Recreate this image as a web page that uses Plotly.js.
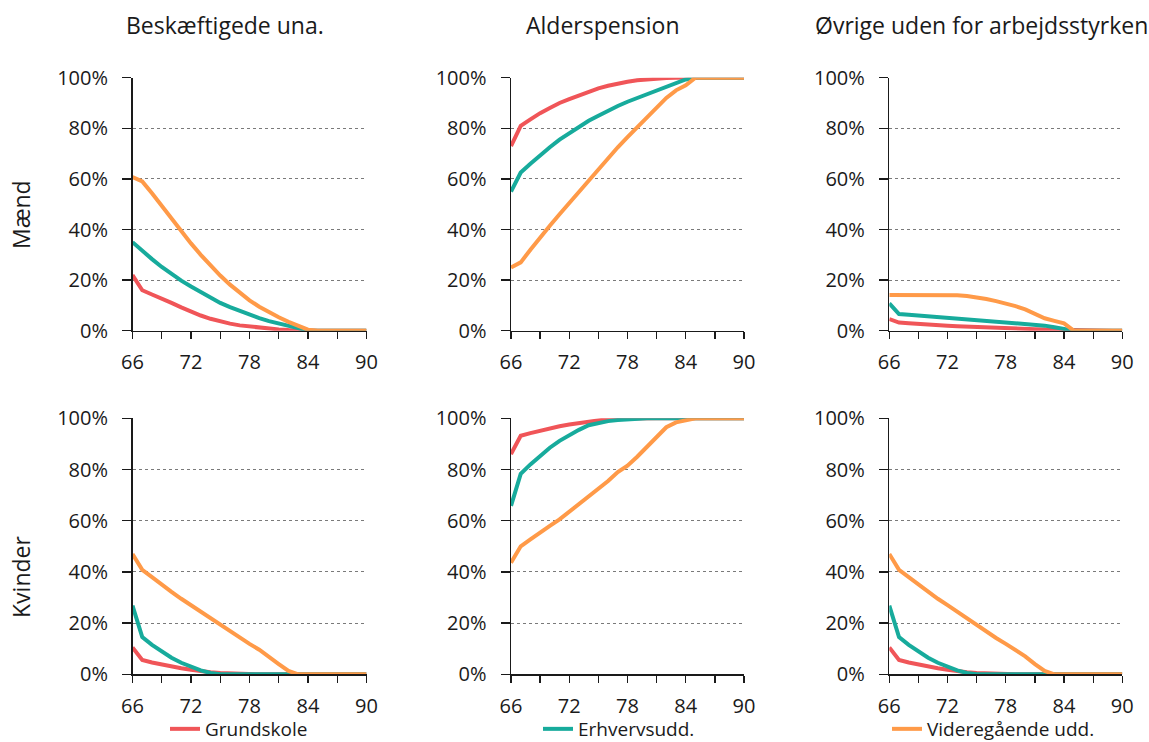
<!DOCTYPE html>
<html>
<head>
<meta charset="utf-8">
<script src="https://cdn.plot.ly/plotly-3.0.1.min.js"></script>
<style>
html,body{margin:0;padding:0;background:#fff;}
#chart{width:1149px;height:742px;}
</style>
</head>
<body>
<div id="chart"></div>
<script>
// Ages (x categories)
const ages = [66,67,68,69,70,71,72,73,74,75,76,77,78,79,80,81,82,83,84,85,86,87,88,89,90];

// Column / row labels
const columnTitles = ["Beskæftigede una.", "Alderspension", "Øvrige uden for arbejdsstyrken"];
const rowTitles = ["Mænd", "Kvinder"];
const seriesNames = ["Grundskole", "Erhvervsudd.", "Videregående udd."];
const yTickVals = [0,20,40,60,80,100];
const yTickText = ["0%","20%","40%","60%","80%","100%"];
const xTickVals = [66,69,72,75,78,81,84,87,90];
const xTickText = ["66","","72","","78","","84","","90"];

// Mænd – Beskæftigede una. (%)
const menBeskGrund = [22,16,14.3,12.8,11,9.2,7.5,6,4.7,3.6,2.8,2.1,1.6,1.1,0.7,0.5,0.3,0.1,0,0,0,0,0,0,0];
const menBeskErhv  = [35,31.5,28.3,25.2,22.3,19.8,17.5,15.2,13,11,9.3,7.8,6.4,5,3.8,2.8,1.8,0.9,0.1,0,0,0,0,0,0];
const menBeskVid   = [60.7,59,54.3,49.3,44.2,39.2,34.5,30,25.8,21.8,18.2,15,12,9.5,7.3,5.3,3.5,1.8,0.4,0,0,0,0,0,0];

// Mænd – Alderspension (%)
const menAldGrund = [73,81,83.5,86,88,90,91.5,93,94.5,95.8,96.8,97.7,98.4,99,99.4,99.7,99.9,100,100,100,100,100,100,100,100];
const menAldErhv  = [55,62.5,66,69.5,72.5,75.5,78,80.5,83,85,87,88.8,90.5,92,93.5,95,96.5,98,99.3,100,100,100,100,100,100];
const menAldVid   = [25,27,32,37,41.5,46,50.5,55,59.5,64,68,72.5,76.5,80.5,84.5,88,92,95,97,100,100,100,100,100,100];

// Mænd – Øvrige uden for arbejdsstyrken (%)
const menOvrGrund = [4.6,3.2,2.9,2.6,2.4,2.2,2,1.8,1.6,1.5,1.3,1.2,1.05,0.9,0.8,0.6,0.5,0.4,0.3,0,0,0,0,0,0];
const menOvrErhv  = [10.8,6.6,6.3,6,5.6,5.2,4.9,4.6,4.3,4,3.7,3.5,3.3,3,2.8,2.5,2,1.4,0.8,0,0,0,0,0,0];
const menOvrVid   = [14.1,14.1,14.1,14.1,14.1,14.1,14.1,14,13.7,13.2,12.5,11.7,10.8,9.7,8.4,6.6,4.9,3.9,2.9,0,0,0,0,0,0];

// Kvinder – Beskæftigede una. (%)
const womBeskGrund = [10.5,5.6,4.6,3.8,3.1,2.4,1.8,1.2,0.8,0.5,0.3,0.1,0,0,0,0,0,0,0,0,0,0,0,0,0];
const womBeskErhv  = [26.8,14.5,11.5,8.8,6.5,4.5,2.8,1.5,0.5,0,0,0,0,0,0,0,0,0,0,0,0,0,0,0,0];
const womBeskVid   = [47,40.8,38,35,32.2,29.5,27,24.4,21.8,19.2,16.6,14.2,11.9,9.6,7,4,1.3,0,0,0,0,0,0,0,0];

// Kvinder – Alderspension (%)
const womAldGrund = [86,93.2,94.2,95.2,96.1,96.9,97.6,98.2,98.8,99.3,99.7,99.9,100,100,100,100,100,100,100,100,100,100,100,100,100];
const womAldErhv  = [65.8,78.3,82,85.5,88.5,91.2,93.5,95.5,97.3,98.3,98.9,99.3,99.6,99.8,100,100,100,100,100,100,100,100,100,100,100];
const womAldVid   = [43.6,50,52.7,55.5,58,60.5,63.5,66.5,69.5,72.5,75.5,79,81.5,85,89,92.8,96.5,98.4,99.4,100,100,100,100,100,100];

// Kvinder – Øvrige uden for arbejdsstyrken (%)
const womOvrGrund = [10.5,5.6,4.6,3.8,3.1,2.4,1.8,1.2,0.8,0.5,0.3,0.1,0,0,0,0,0,0,0,0,0,0,0,0,0];
const womOvrErhv  = [26.8,14.5,11.5,8.8,6.5,4.5,2.8,1.5,0.5,0,0,0,0,0,0,0,0,0,0,0,0,0,0,0,0];
const womOvrVid   = [47,40.8,38,35,32.2,29.5,27,24.4,21.8,19.2,16.6,14.2,11.9,9.6,7,4,1.3,0,0,0,0,0,0,0,0];

const colors = ["#f05558", "#17ab9c", "#ff9a48"];
const FONT = "Open Sans, DejaVu Sans, sans-serif";

const panels = [
  [menBeskGrund, menBeskErhv, menBeskVid],
  [menAldGrund, menAldErhv, menAldVid],
  [menOvrGrund, menOvrErhv, menOvrVid],
  [womBeskGrund, womBeskErhv, womBeskVid],
  [womAldGrund, womAldErhv, womAldVid],
  [womOvrGrund, womOvrErhv, womOvrVid]
];

const W = 1149, H = 742;
const colPx = [[132.5,366.5],[511,744],[889.3,1122.3]];
const rowPx = [[77.7,330.7],[418.3,674.3]]; // top(100%), bottom(0%)
const legendNames = ["legend","legend2","legend3"];

const traces = [];
panels.forEach((series, p) => {
  const ax = p === 0 ? "" : String(p+1);
  [0,1,2].forEach(s => {
    traces.push({
      x: ages, y: series[s], type: "scatter", mode: "lines",
      name: seriesNames[s],
      line: {color: colors[s], width: 4},
      xaxis: "x"+ax, yaxis: "y"+ax,
      cliponaxis: false,
      showlegend: p === 0,
      legend: legendNames[s],
      hoverinfo: "skip"
    });
  });
});

const layout = {
  width: W, height: H,
  margin: {l:0, r:0, t:0, b:0, autoexpand: false},
  paper_bgcolor: "#fff", plot_bgcolor: "#fff",
  font: {family: FONT, color: "#1a1a1a", size: 20},
  annotations: [],
  shapes: []
};

for (let p = 0; p < 6; p++) {
  const r = Math.floor(p/3), c = p % 3;
  const ax = p === 0 ? "" : String(p+1);
  layout["xaxis"+ax] = {
    domain: [colPx[c][0]/W, colPx[c][1]/W],
    anchor: "y"+ax,
    range: [66, 90],
    tickmode: "array", tickvals: xTickVals, ticktext: xTickText,
    ticks: "outside", ticklen: 7, tickwidth: 1.3, tickcolor: "#1a1a1a",
    showline: true, linecolor: "#1a1a1a", linewidth: 1.5,
    showgrid: false, zeroline: false,
    tickfont: {size: 20, family: FONT, color: "#1a1a1a"},
    ticklabelstandoff: 6,
    automargin: false,
    fixedrange: true
  };
  layout["yaxis"+ax] = {
    domain: [(H-rowPx[r][1])/H, (H-rowPx[r][0])/H],
    anchor: "x"+ax,
    range: [0, 100],
    tickmode: "array", tickvals: yTickVals, ticktext: yTickText,
    ticks: "outside", ticklen: 9, tickwidth: 1.3, tickcolor: "#1a1a1a",
    showline: true, linecolor: "#1a1a1a", linewidth: 1.5,
    showgrid: true, gridcolor: "#7a7a7a", gridwidth: 1, griddash: "dot",
    zeroline: false,
    tickfont: {size: 20, family: FONT, color: "#1a1a1a"},
    ticklabelstandoff: 10,
    automargin: false,
    fixedrange: true
  };
}

// Column titles
const titleCenters = [225, 603, 981];
columnTitles.forEach((t, i) => {
  layout.annotations.push({
    text: t, xref: "paper", yref: "paper",
    x: titleCenters[i]/W, y: (H-25)/H, xanchor: "center", yanchor: "middle",
    showarrow: false, font: {size: 23, family: FONT, color: "#1a1a1a"}
  });
});
// Row titles
const rowCenters = [215, 577];
rowTitles.forEach((t, i) => {
  layout.annotations.push({
    text: t, xref: "paper", yref: "paper",
    x: 21/W, y: (H-rowCenters[i])/H, xanchor: "center", yanchor: "middle",
    textangle: -90,
    showarrow: false, font: {size: 23, family: FONT, color: "#1a1a1a"}
  });
});

// Legends
const legendX = [165, 538, 887];
legendNames.forEach((ln, i) => {
  layout[ln] = {
    orientation: "h",
    x: legendX[i]/W, xanchor: "left",
    y: (H-729)/H, yanchor: "middle",
    bgcolor: "rgba(0,0,0,0)", borderwidth: 0,
    font: {size: 19, family: FONT, color: "#1a1a1a"},
    itemclick: false, itemdoubleclick: false
  };
});

Plotly.newPlot("chart", traces, layout, {staticPlot: true, displayModeBar: false});
</script>
</body>
</html>
